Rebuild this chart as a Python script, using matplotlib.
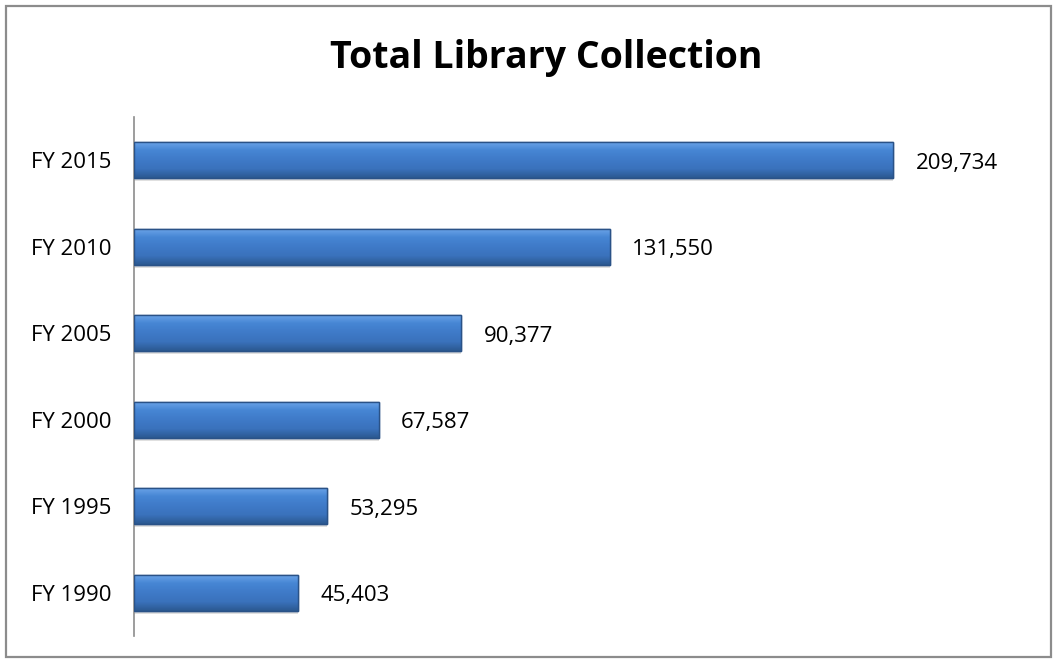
import numpy as np
import matplotlib.pyplot as plt
from matplotlib.patches import Rectangle
from matplotlib.colors import LinearSegmentedColormap

categories = ['FY 1990', 'FY 1995', 'FY 2000', 'FY 2005', 'FY 2010', 'FY 2015']
values = [45403, 53295, 67587, 90377, 131550, 209734]
title = 'Total Library Collection'

plt.rcParams['font.family'] = ['Open Sans', 'DejaVu Sans']

W, H = 1056, 662
fig = plt.figure(figsize=(W / 100, H / 100), dpi=100)

# outer frame like the Excel chart area
fig.patches.append(Rectangle((6 / W, 5 / H), 1045 / W, 651 / H, transform=fig.transFigure,
                             fill=False, edgecolor='#8c8c8c', linewidth=1.6))

ax = fig.add_axes([134 / W, 26 / H, 905 / W, 519 / H])
ax.set_xlim(0, 250000)
ax.set_ylim(-0.5, len(categories) - 0.5)

grad = LinearSegmentedColormap.from_list('bar', ['#2b5890', '#3a72bc', '#3f7ac8', '#4686d4', '#6fa6ea'])
gradient = np.linspace(0, 1, 256).reshape(-1, 1)
bar_h = 0.42
y = np.arange(len(categories))

# soft shadow
ax.barh(y - 0.035, values, height=bar_h, left=0, color='#000000', alpha=0.12, zorder=1)
bars = ax.barh(y, values, height=bar_h, color='#3a72bc', edgecolor='#2a5287', linewidth=1.0, zorder=2)
for b in bars:
    x0, y0 = b.get_x(), b.get_y()
    w, h = b.get_width(), b.get_height()
    im = ax.imshow(gradient, cmap=grad, aspect='auto', origin='lower',
                   extent=[x0, x0 + w, y0, y0 + h], zorder=3)
    im.set_clip_path(b)
    ax.add_patch(Rectangle((x0, y0), w, h, fill=False, edgecolor='#2a5287', linewidth=1.0, zorder=4))

for yi, v in zip(y, values):
    ax.annotate(f'{v:,}', (v, yi), xytext=(16, -2), textcoords='offset points',
                va='center', ha='left', fontsize=16)

ax.set_yticks(y)
ax.set_yticklabels(categories, fontsize=16, va='center_baseline')
ax.tick_params(axis='y', length=0, pad=16)
ax.set_xticks([])
for s in ['top', 'right', 'bottom']:
    ax.spines[s].set_visible(False)
ax.spines['left'].set_color('#8c8c8c')
ax.spines['left'].set_linewidth(1.2)

fig.text(546 / W, 1 - 58 / H, title, ha='center', va='center', fontsize=27, fontweight='bold')

fig.savefig('out.png', dpi=100)
